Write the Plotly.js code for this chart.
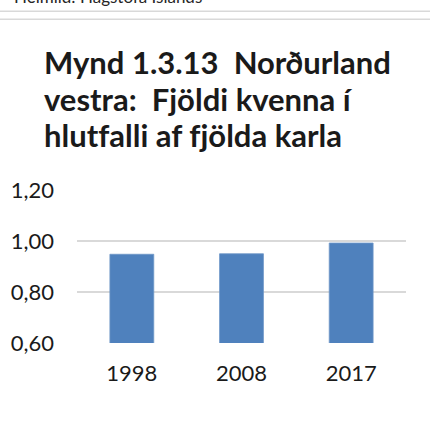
<!DOCTYPE html>
<html>
<head>
<meta charset="utf-8">
<script src="https://cdn.plot.ly/plotly-3.0.1.min.js"></script>
<style>html,body{margin:0;padding:0;background:#fff;}#chart{width:430px;height:421px;}
text{font-variant-ligatures:none;font-feature-settings:"liga" 0,"clig" 0;}</style>
</head>
<body>
<div id="chart"></div>
<script>
var years = ['1998', '2008', '2017'];
var ratio = [0.948, 0.950, 0.992];
var yTickVals = [0.6, 0.8, 1.0, 1.2];
var yTickText = ['0,60', '0,80', '1,00', '1,20'];
var titleLines = ['Mynd 1.3.13  Norðurland', 'vestra:  Fjöldi kvenna í', 'hlutfalli af fjölda karla'];
var sourceText = 'Heimild: Hagstofa Íslands';

var W = 430, H = 421;
var L = 77, R = 406, T = 190, B = 343.3;
function px(x) { return (x - L) / (R - L); }
function py(y) { return (B - y) / (B - T); }

var annotations = [];
var lineCenters = [62, 98.5, 135];
titleLines.forEach(function (t, i) {
  annotations.push({
    text: t, xref: 'paper', yref: 'paper', x: px(42), y: py(lineCenters[i]),
    xanchor: 'left', yanchor: 'middle', showarrow: false,
    font: {family: 'Lato, sans-serif', size: 31, color: '#1a1a1a', weight: 'bold'}
  });
});
annotations.push({
  text: sourceText, xref: 'paper', yref: 'paper', x: px(12), y: py(8.5),
  xanchor: 'left', yanchor: 'bottom', showarrow: false,
  font: {family: 'Lato, sans-serif', size: 17, color: '#262626'}
});

var shapes = [11, 19].map(function (yy) {
  return {type: 'line', xref: 'paper', yref: 'paper', x0: px(0), x1: px(430), y0: py(yy), y1: py(yy),
    line: {color: '#d9d9d9', width: 1.5}};
});

var trace = {
  type: 'bar', x: years, y: ratio,
  marker: {color: '#4f81bd', line: {color: '#6f97c8', width: 0.8}},
  hoverinfo: 'none'
};

var layout = {
  width: W, height: H,
  margin: {l: L, r: W - R, t: T, b: H - B, pad: 0},
  paper_bgcolor: '#ffffff', plot_bgcolor: '#ffffff',
  showlegend: false,
  bargap: 0.6,
  font: {family: 'Lato, sans-serif', color: '#1a1a1a'},
  xaxis: {
    type: 'category', showgrid: false, zeroline: false, showline: false, ticks: '',
    tickfont: {size: 22, color: '#1a1a1a'}, ticklabelstandoff: 15
  },
  yaxis: {
    range: [0.6, 1.2], tickvals: yTickVals, ticktext: yTickText,
    showgrid: true, gridcolor: '#d9d9d9', gridwidth: 1.3, zeroline: false, showline: false, ticks: '',
    tickfont: {size: 22, color: '#1a1a1a'}, ticklabelstandoff: 22
  },
  annotations: annotations,
  shapes: shapes
};

Plotly.newPlot('chart', [trace], layout, {staticPlot: true, displayModeBar: false});
</script>
</body>
</html>
